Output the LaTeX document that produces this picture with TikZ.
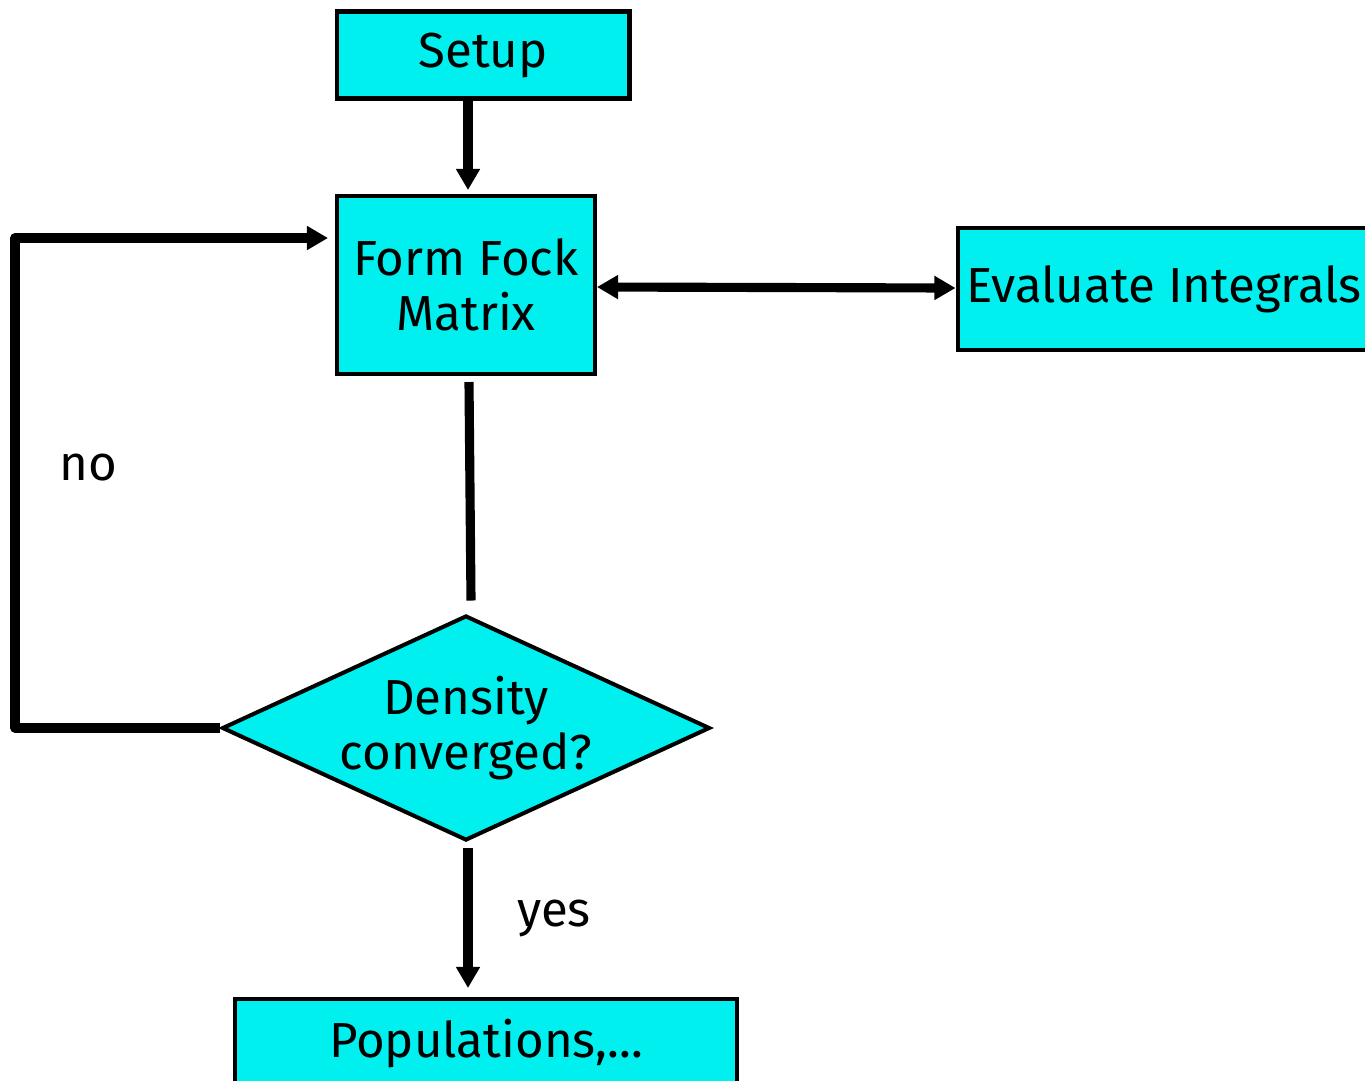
\documentclass[tikz,border=0pt]{standalone}
\usepackage{fontspec}
\setmainfont{Fira Sans}
\usepackage{xcolor}
\usepackage{tikz}
\usetikzlibrary{calc}
\usetikzlibrary{arrows.meta}
\usetikzlibrary{shapes.geometric}
\definecolor{boxcyan}{HTML}{00F0F0}

\begin{document}
\begin{tikzpicture}[x=0.02cm,y=-0.02cm]
  \tikzset{every node/.style={font=\fontsize{28}{31}\selectfont,align=center,inner sep=0pt}};
  \tikzset{stepbox/.style={rectangle,draw,line width=2.3pt,fill=boxcyan}};
  \tikzset{link/.style={line width=5.2pt,line join=round,-{Triangle[length=12pt,width=13pt]}}};
  \useasboundingbox (0,0) rectangle (1365,1080);
  \node [stepbox, minimum width=5.86cm, minimum height=1.74cm] (setup) at (483,55) {Setup};
  \node [stepbox, minimum width=5.16cm, minimum height=3.56cm] (fock) at (466,285) {Form Fock\\Matrix};
  \node [stepbox, minimum width=8.26cm, minimum height=2.44cm] (eval) at (1164,289) {Evaluate Integrals};
  \node [diamond, aspect=2.17, draw, line width=2.3pt, fill=boxcyan, minimum width=9.76cm, minimum height=4.5cm] (dec) at (466,728) {Density\\converged?};
  \node [stepbox, minimum width=10.04cm, minimum height=1.8cm] (pop) at (486,1044) {Populations,...};
  \node (no) at (88,468) {no};
  \node (yes) at (554,918) {yes};
  \path[draw,link] ($(setup.south)+(-15,0)$) -- ($(fock.north)+(2,-4)$);
  \path[draw,link,{Triangle[length=12pt,width=13pt]}-{Triangle[length=12pt,width=13pt]}] ($(fock.east)+(0,2)$) -- ($(eval.west)+(0,-1)$);
  \path[draw,line width=5.2pt] ($(fock.south)+(3,6)$) -- ($(dec.north)+(5,-13)$);
  \path[draw,link] ($(dec.south)+(2,5)$) -- ($(pop.north)+(-18,-9)$);
  \path[draw,link] (dec.west) -- ++(-205,0) |- ($(fock.west)+(-7,-47)$);
\end{tikzpicture}
\end{document}
